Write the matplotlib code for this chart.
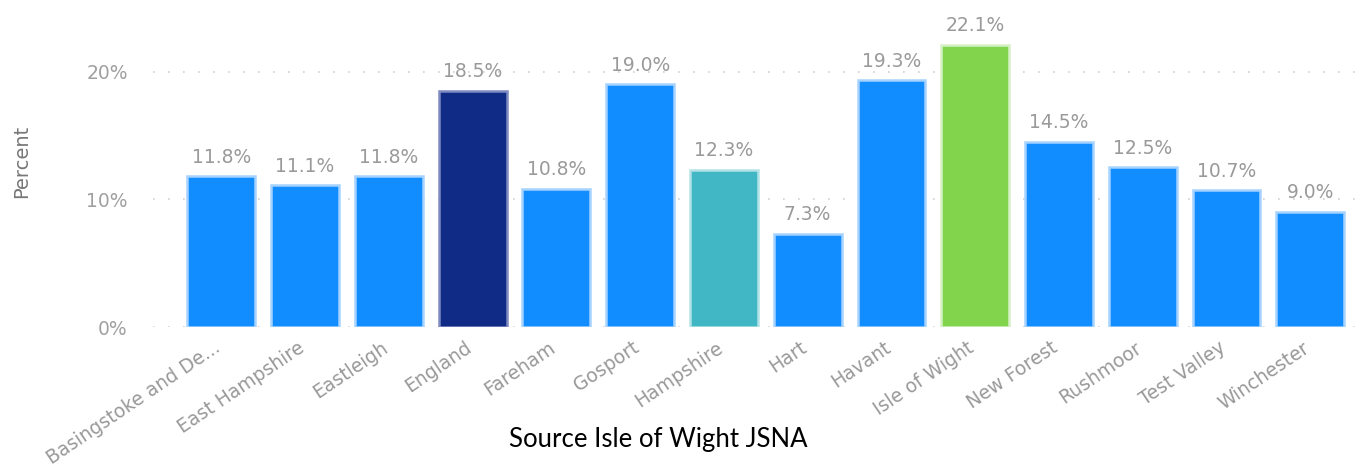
import matplotlib
matplotlib.use("Agg")
import matplotlib.pyplot as plt
from matplotlib.ticker import FuncFormatter
from matplotlib.transforms import ScaledTranslation

areas = ["Basingstoke and De...", "East Hampshire", "Eastleigh", "England", "Fareham",
         "Gosport", "Hampshire", "Hart", "Havant", "Isle of Wight", "New Forest",
         "Rushmoor", "Test Valley", "Winchester"]
percent = [11.8, 11.1, 11.8, 18.5, 10.8, 19.0, 12.3, 7.3, 19.3, 22.1, 14.5, 12.5, 10.7, 9.0]

BLUE = "#118DFF"
special = {"England": "#0F2B85", "Hampshire": "#41B6C4", "Isle of Wight": "#82D44C"}
EDGE = {"#118DFF": "#A5D2FF", "#0F2B85": "#7F8BC0", "#41B6C4": "#B3E2E6", "#82D44C": "#D6F1C6"}
colors = [special.get(a, BLUE) for a in areas]

plt.rcParams["font.family"] = ["DejaVu Sans"]

fig = plt.figure(figsize=(13.63, 4.72), dpi=100)
ax = fig.add_axes([0.112, 0.307, 0.888, 0.693])

x = range(len(areas))
bars = ax.bar(x, percent, width=0.81, color=colors,
              edgecolor=[EDGE[c] for c in colors], linewidth=1.8, zorder=3)

for rect, v in zip(bars, percent):
    ax.annotate(f"{v:.1f}%", (rect.get_x() + rect.get_width() / 2, v),
                xytext=(0, 7), textcoords="offset points",
                ha="center", va="bottom", fontsize=13.5, color="#9A9A9A")

ax.set_xlim(-0.82, 13.63)
ax.set_ylim(0, 25.6)
ax.set_yticks([0, 10, 20])
ax.yaxis.set_major_formatter(FuncFormatter(lambda v, _: f"{v:.0f}%"))
ax.grid(axis="y", color="#D0D0D0", ls=(0, (1, 8)), lw=1.2, zorder=0)
for s in ax.spines.values():
    s.set_visible(False)
ax.tick_params(length=0)
ax.tick_params(axis="y", labelsize=13.5, labelcolor="#A0A0A0", pad=18)
ax.set_xticks(list(x))
ax.set_xticklabels(areas, rotation=34, ha="right", rotation_mode="anchor",
                   fontsize=13.5, color="#999999")
ax.tick_params(axis="x", pad=8)
shift = ScaledTranslation(-0.08, 0, fig.dpi_scale_trans)
for lab in ax.get_xticklabels():
    lab.set_transform(lab.get_transform() + shift)

fig.text(0.0155, 0.659, "Percent", rotation=90, ha="center", va="center",
         fontsize=14, color="#777777")
fig.text(0.483, 0.068, "Source Isle of Wight JSNA", ha="center", va="center",
         fontsize=18.5, family=["Lato", "DejaVu Sans"], color="black")

fig.savefig("out.png", dpi=100)
